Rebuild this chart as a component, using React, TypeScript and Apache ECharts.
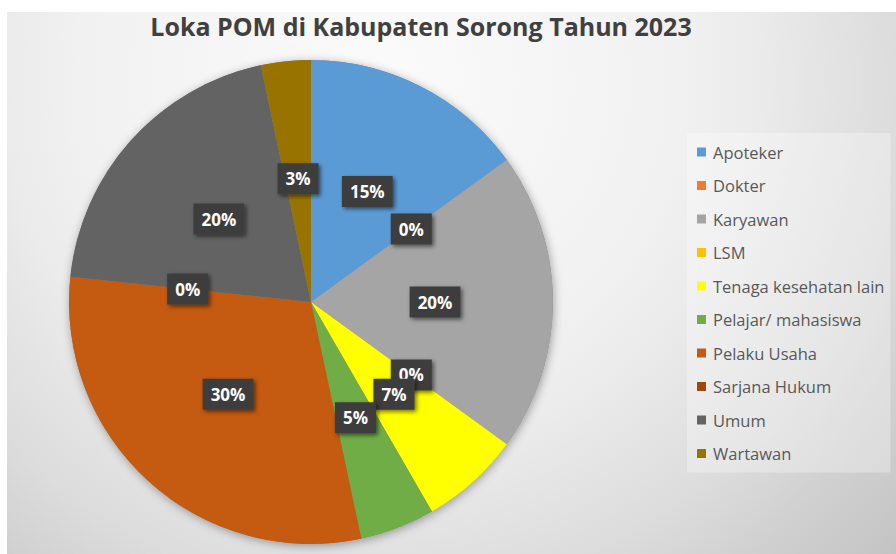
import React, { useEffect, useRef } from "react";
import * as echarts from "echarts";

const titleText = "Loka POM di Kabupaten Sorong Tahun 2023";
const categories = [
  "Apoteker",
  "Dokter",
  "Karyawan",
  "LSM",
  "Tenaga kesehatan lain",
  "Pelajar/ mahasiswa",
  "Pelaku Usaha",
  "Sarjana Hukum",
  "Umum",
  "Wartawan",
];
const values = [9, 0, 12, 0, 4, 3, 18, 0, 12, 2];
const colors = [
  "#5B9BD5",
  "#ED7D31",
  "#A5A5A5",
  "#FFC000",
  "#FFFF00",
  "#70AD47",
  "#C55A11",
  "#9E480E",
  "#636363",
  "#997300",
];

const FONT = "'Open Sans', 'Noto Sans', sans-serif";

export default function App() {
  const ref = useRef<HTMLDivElement>(null);
  useEffect(() => {
    if (!ref.current) return;
    const chart = echarts.init(ref.current, undefined, { renderer: "svg" });
    chart.setOption({
      animation: false,
      color: colors,
      graphic: [
        {
          type: "rect",
          z: -10,
          silent: true,
          shape: { x: 7, y: 12, width: 889, height: 542 },
          style: {
            fill: {
              type: "radial",
              x: 380,
              y: 80,
              r: 700,
              global: true,
              colorStops: [
                { offset: 0, color: "#fbfbfb" },
                { offset: 0.43, color: "#f1f1f1" },
                { offset: 0.54, color: "#ebebeb" },
                { offset: 0.74, color: "#dcdcdc" },
                { offset: 0.86, color: "#d0d0d0" },
                { offset: 1, color: "#c4c4c4" },
              ],
            },
          },
        },
      ],
      title: {
        text: titleText,
        left: 416,
        top: 8,
        textAlign: "center",
        textStyle: {
          fontFamily: FONT,
          fontWeight: "bold",
          fontSize: 25,
          color: "#404040",
        },
      },
      legend: {
        orient: "vertical",
        left: 687,
        top: 133,
        padding: [10, 6, 10, 10],
        backgroundColor: "rgba(255,255,255,0.3)",
        itemWidth: 9,
        itemHeight: 9,
        itemGap: 15.5,
        icon: "rect",
        data: categories,
        textStyle: {
          fontFamily: FONT,
          fontSize: 16.5,
          lineHeight: 18,
          color: "#595959",
          padding: [0, 0, 0, 2],
        },
      },
      series: [
        {
          type: "pie",
          name: "shadow",
          silent: true,
          center: [311, 302],
          radius: 242,
          z: 1,
          label: { show: false },
          labelLine: { show: false },
          itemStyle: {
            color: "#888",
            shadowBlur: 10,
            shadowColor: "rgba(0,0,0,0.35)",
            shadowOffsetX: 1,
            shadowOffsetY: 2,
          },
          data: [{ value: 1, name: "__shadow" }],
        },
        {
          type: "pie",
          center: [311, 302],
          radius: 242,
          startAngle: 90,
          clockwise: true,
          z: 2,
          itemStyle: { borderWidth: 0 },
          labelLine: { show: false },
          labelLayout: { hideOverlap: false },
          emphasis: { disabled: true },
          label: {
            show: true,
            position: "inside",
            formatter: (p: any) => Math.round(p.percent) + "%",
            fontFamily: FONT,
            fontWeight: "bold",
            fontSize: 17,
            lineHeight: 19,
            color: "#ffffff",
            backgroundColor: "#3d3d3d",
            padding: [6, 8],
            shadowColor: "rgba(0,0,0,0.55)",
            shadowBlur: 4,
            shadowOffsetX: 2,
            shadowOffsetY: 2,
          },
          data: categories.map((name, i) => ({ name, value: values[i] })),
        },
      ],
    });
    return () => chart.dispose();
  }, []);
  return (
    <div
      ref={ref}
      style={{ position: "absolute", left: 0, top: 0, width: 896, height: 554, background: "#fff" }}
    />
  );
}
